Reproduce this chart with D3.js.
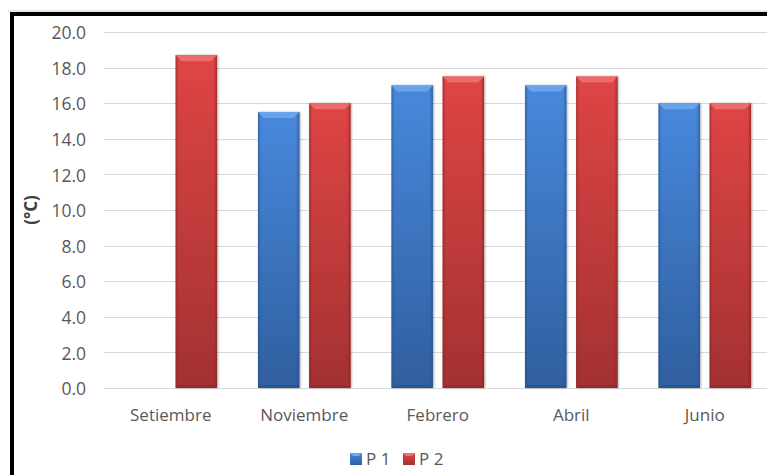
<!DOCTYPE html>
<html>
<head>
<meta charset="utf-8">
<script src="https://cdn.jsdelivr.net/npm/d3@7/dist/d3.min.js"></script>
<style>
  html, body { margin: 0; padding: 0; background: #fff; }
  svg { display: block; }
  text { font-family: "Open Sans", "Noto Sans", sans-serif; }
</style>
</head>
<body>
<svg id="chart" width="767" height="475"></svg>
<script>
// Monthly temperature by station
const categories = ["Setiembre", "Noviembre", "Febrero", "Abril", "Junio"];
const seriesNames = ["P 1", "P 2"];
const p1Values = [null, 15.5, 17.0, 17.0, 16.0];
const p2Values = [18.7, 16.0, 17.5, 17.5, 16.0];
const yTicks = [0, 2, 4, 6, 8, 10, 12, 14, 16, 18, 20];
const yLabel = "(°C)";

const seriesValues = [p1Values, p2Values];
const palette = {
  "P 1": { top: "#4888dc", bot: "#2f5f9f", light: "#6ea8ee", edge: "#24508a" },
  "P 2": { top: "#df4545", bot: "#a33131", light: "#f07272", edge: "#862424" }
};

const svg = d3.select("#chart");
const W = 767, H = 475;

const plotLeft = 104, step = 133.5;
const x0 = d3.scaleBand().domain(categories).range([plotLeft, plotLeft + step * categories.length]).padding(0);
const x1 = d3.scaleBand().domain(seriesNames).range([0, x0.bandwidth()]).paddingInner(0.19).paddingOuter(0.4);
const y = d3.scaleLinear().domain([0, 20]).range([388, 32]);

// gradients
const defs = svg.append("defs");
seriesNames.forEach((s, i) => {
  const c = palette[s];
  const g = defs.append("linearGradient").attr("id", "body" + i).attr("x1", 0).attr("y1", 0).attr("x2", 0).attr("y2", 1);
  g.append("stop").attr("offset", "0%").attr("stop-color", c.top);
  g.append("stop").attr("offset", "100%").attr("stop-color", c.bot);
  const h = defs.append("linearGradient").attr("id", "side" + i).attr("x1", 0).attr("y1", 0).attr("x2", 1).attr("y2", 0);
  h.append("stop").attr("offset", "0%").attr("stop-color", c.edge).attr("stop-opacity", 0.55);
  h.append("stop").attr("offset", "8%").attr("stop-color", c.edge).attr("stop-opacity", 0.0);
  h.append("stop").attr("offset", "92%").attr("stop-color", c.edge).attr("stop-opacity", 0.0);
  h.append("stop").attr("offset", "100%").attr("stop-color", c.edge).attr("stop-opacity", 0.7);
});
const shadow = defs.append("filter").attr("id", "shadow").attr("x", "-20%").attr("y", "-5%").attr("width", "140%").attr("height", "110%");
shadow.append("feGaussianBlur").attr("in", "SourceAlpha").attr("stdDeviation", 1.2);
shadow.append("feOffset").attr("dx", 1).attr("dy", 0).attr("result", "b");
shadow.append("feComponentTransfer").append("feFuncA").attr("type", "linear").attr("slope", 0.35);
const merge = shadow.append("feMerge");
merge.append("feMergeNode");
merge.append("feMergeNode").attr("in", "SourceGraphic");

// gridlines
svg.append("g").selectAll("line").data(yTicks).join("line")
  .attr("x1", plotLeft).attr("x2", W)
  .attr("y1", d => Math.round(y(d)) + 0.5).attr("y2", d => Math.round(y(d)) + 0.5)
  .attr("stroke", "#d9d9d9").attr("stroke-width", 1);

// y axis labels
const yAxis = d3.axisLeft(y).tickValues(yTicks).tickFormat(d3.format(".1f")).tickSize(0).tickPadding(0);
const ya = svg.append("g").attr("transform", "translate(86,1)").call(yAxis);
ya.select(".domain").remove();
ya.selectAll("text").attr("font-size", 17.5).attr("fill", "#595959").attr("font-family", "\"Open Sans\", sans-serif");

// x axis labels
const xAxis = d3.axisBottom(x0).tickSize(0).tickPadding(0);
const xa = svg.append("g").attr("transform", "translate(0,409)").call(xAxis);
xa.select(".domain").remove();
xa.selectAll("text").attr("font-size", 17).attr("fill", "#595959").attr("font-family", "\"Open Sans\", sans-serif");

// bars
const bw = x1.bandwidth();
const bevel = 6;

seriesNames.forEach((s, si) => {
  const c = palette[s];
  const data = categories.map((cat, ci) => ({ cat, v: seriesValues[si][ci] })).filter(d => d.v != null);
  const bars = svg.append("g").selectAll("g").data(data).join("g")
    .attr("transform", d => `translate(${x0(d.cat) + x1(s)},0)`);
  bars.append("rect")
    .attr("x", 0).attr("y", d => y(d.v)).attr("width", bw).attr("height", d => y(0) - y(d.v))
    .attr("fill", `url(#body${si})`).attr("filter", "url(#shadow)");
  bars.append("rect")
    .attr("x", 0).attr("y", d => y(d.v)).attr("width", bw).attr("height", d => y(0) - y(d.v))
    .attr("fill", `url(#side${si})`);
  // top bevel
  bars.append("path")
    .attr("d", d => { const t = y(d.v); return `M0,${t} L${bw},${t} L${bw - bevel},${t + bevel} L${bevel},${t + bevel} Z`; })
    .attr("fill", c.light).attr("opacity", 0.85);
  // bottom shade
  bars.append("path")
    .attr("d", d => { const b = y(0); return `M0,${b} L${bw},${b} L${bw - 3},${b - 3} L3,${b - 3} Z`; })
    .attr("fill", c.edge).attr("opacity", 0.45);
});

// legend
const legend = svg.append("g").attr("transform", "translate(350,453)");
const lx = [0, 53];
seriesNames.forEach((s, i) => {
  const c = palette[s];
  const g = legend.append("g").attr("transform", `translate(${lx[i]},0)`);
  g.append("rect").attr("width", 12).attr("height", 12).attr("fill", `url(#body${i})`);
  g.append("path").attr("d", "M0,0 L12,0 L9,3 L3,3 Z").attr("fill", c.light);
  g.append("text").attr("x", 16).attr("y", 6).attr("dy", "0.36em")
    .attr("font-size", 17).attr("fill", "#595959").text(s);
});

// y axis title
svg.append("text")
  .attr("transform", "translate(31,210) rotate(-90)")
  .attr("text-anchor", "middle").attr("dy", "0.36em")
  .attr("font-size", 17).attr("font-weight", "bold").attr("fill", "#404040")
  .text(yLabel);

// frame
svg.append("line").attr("x1", 8).attr("x2", W).attr("y1", 11).attr("y2", 11).attr("stroke", "#d0d0d0").attr("stroke-width", 1);
svg.append("rect").attr("x", 12).attr("y", 14).attr("width", W + 20).attr("height", H + 20)
  .attr("fill", "none").attr("stroke", "#000").attr("stroke-width", 4);
</script>
</body>
</html>
